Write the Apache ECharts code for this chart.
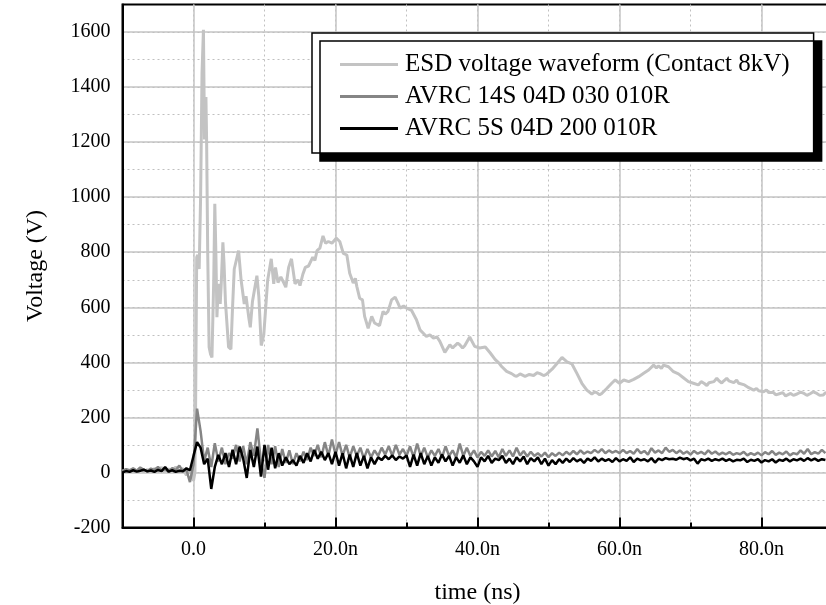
<!DOCTYPE html>
<html><head><meta charset="utf-8">
<script src="https://cdn.jsdelivr.net/npm/echarts@6/dist/echarts.min.js"></script>
<style>html,body{margin:0;padding:0;background:#fff}#c{width:826px;height:605px}</style>
</head><body><div id="c"></div>
<script>
const seriesNames = ['ESD voltage waveform (Contact 8kV)', 'AVRC 14S 04D 030 010R', 'AVRC 5S 04D 200 010R'];
const xTickValues = [0, 20, 40, 60, 80];
const xTickLabels = ['0.0', '20.0n', '40.0n', '60.0n', '80.0n'];

const esdTime = [-10,-9.5,-9,-8.5,-8,-7.5,-7,-6.5,-6,-5.5,-5,-4.5,-4,-3.5,-3,-2.5,-2,-1.5,-1,-0.5,
0,0.2,0.3,0.45,0.6,0.8,1.0,1.2,1.4,1.55,1.75,1.85,2.0,2.2,2.4,2.6,2.85,3.0,3.15,3.3,3.5,3.76,3.9,4.14,4.3,4.5,4.94,5.27,5.5,5.74,6.35,6.7,7.15,7.4,7.8,8.0,8.3,8.93,9.2,9.54,9.9,
10.44,10.95,11.3,11.55,11.9,12.3,12.7,13.0,13.4,13.8,14.3,14.7,15.0,15.4,15.75,16.2,16.8,17.1,17.4,17.8,18.24,18.6,19.0,19.5,
20.1,20.6,21.1,21.6,22.0,22.5,22.8,23.0,23.4,23.8,24.1,24.6,25.1,25.5,26.2,26.7,27.0,27.4,27.9,28.4,28.8,29.1,29.6,
30.0,30.7,31.4,31.9,32.4,32.8,33.3,33.8,34.3,34.7,35.4,36.1,36.5,36.8,37.2,37.5,37.9,38.2,38.9,39.6,
40.3,41.1,41.8,42.5,43.0,43.4,44.1,44.8,45.2,45.5,46.0,46.7,47.3,47.9,48.4,48.8,49.3,49.7,
50.5,51.2,51.9,52.6,53.3,54.0,54.7,55.4,56.1,56.5,56.8,57.2,57.5,58.2,58.9,59.4,
60.0,60.6,61.3,62.0,62.7,63.4,64.1,64.8,65.2,65.5,65.9,66.2,66.9,67.6,68.3,69.0,69.7,
70.4,71.1,71.5,71.9,72.3,72.6,73.3,73.7,74.0,74.4,74.7,75.1,75.4,76.1,76.5,76.8,77.6,78.2,78.9,79.3,79.6,
80.3,80.7,81.0,81.7,82.0,82.4,83.0,83.4,84.1,84.5,85.0,85.5,86.0,86.4,86.9,87.3,87.8,88.2,88.7,89.0,89.5,90.0];
const esdVolt = [5,10,4,12,6,15,5,10,3,14,8,18,5,12,6,20,4,15,-10,10,
-30,0,250,782,790,739,1000,1450,1608,1210,1364,1200,800,455,430,418,700,976,800,564,685,612,680,836,760,620,455,448,600,739,806,700,612,640,560,527,620,715,640,461,500,
697,776,685,745,690,710,690,673,745,776,685,700,679,720,745,750,782,770,806,815,859,833,839,833,
851,839,796,790,724,688,705,676,633,627,567,524,567,543,533,585,575,585,627,637,615,597,605,
597,589,555,518,505,494,500,488,492,476,436,464,452,460,470,464,452,460,492,458,
452,456,434,410,398,385,367,359,352,349,358,349,356,352,362,359,352,356,
375,396,418,402,394,360,324,299,285,292,290,282,287,305,324,336,
324,336,330,338,348,360,372,390,380,387,378,390,384,366,358,344,330,
324,318,330,324,316,326,330,342,333,325,333,342,333,326,335,324,318,308,299,305,297,
293,300,290,290,282,285,290,278,287,280,285,292,287,280,287,293,287,280,281,290,285,288];

const avrcTime = [
-10,-9.5,-9,-8.5,-8,-7.5,-7,-6.5,-6,-5.5,-5,-4.5,-4,-3.5,-3,-2.5,-2,-1.5,-1,-0.5,
0,0.5,1,1.5,2,2.5,3,3.5,4,4.5,5,5.5,6,6.5,7,7.5,8,8.5,9,9.5,
10,10.5,11,11.5,12,12.5,13,13.5,14,14.5,15,15.5,16,16.5,17,17.5,18,18.5,19,19.5,
20,20.5,21,21.5,22,22.5,23,23.5,24,24.5,25,25.5,26,26.5,27,27.5,28,28.5,29,29.5,
30,30.5,31,31.5,32,32.5,33,33.5,34,34.5,35,35.5,36,36.5,37,37.5,38,38.5,39,39.5,
40,40.5,41,41.5,42,42.5,43,43.5,44,44.5,45,45.5,46,46.5,47,47.5,48,48.5,49,49.5,
50,50.5,51,51.5,52,52.5,53,53.5,54,54.5,55,55.5,56,56.5,57,57.5,58,58.5,59,59.5,
60,60.5,61,61.5,62,62.5,63,63.5,64,64.5,65,65.5,66,66.5,67,67.5,68,68.5,69,69.5,
70,70.5,71,71.5,72,72.5,73,73.5,74,74.5,75,75.5,76,76.5,77,77.5,78,78.5,79,79.5,
80,80.5,81,81.5,82,82.5,83,83.5,84,84.5,85,85.5,86,86.5,87,87.5,88,88.5,89];
const avrc14 = [
5,12,8,15,6,18,10,4,14,9,20,6,12,3,16,8,25,5,10,-35,
30,232,150,40,90,20,106,40,90,30,70,50,100,40,95,30,110,60,160,40,
-20,100,30,95,20,85,35,80,30,70,40,75,45,90,60,100,55,110,60,120,
65,110,60,100,55,95,60,90,50,85,55,80,60,90,65,95,60,100,65,85,
60,95,55,105,60,90,55,80,60,85,55,95,60,80,55,105,60,90,60,80,
55,75,60,80,58,78,55,85,60,80,58,90,62,78,58,75,60,70,58,72,
55,70,60,72,62,75,65,78,66,80,68,76,70,82,72,85,70,80,72,78,
70,82,70,78,68,85,70,78,65,88,72,80,70,90,75,82,70,80,68,76,
65,78,68,75,66,80,68,76,65,72,66,74,64,70,66,75,62,70,64,72,
62,74,66,78,64,72,66,76,62,70,66,80,68,85,66,74,68,82,70];
const avrc5 = [
0,5,2,8,3,6,10,4,7,2,9,5,20,3,8,2,6,4,15,8,
60,110,90,30,50,-60,20,64,30,70,20,82,30,94,50,-20,82,20,94,-15,
100,10,90,15,70,25,55,30,45,25,60,35,70,40,82,50,75,45,70,30,
75,25,70,15,65,20,70,25,60,15,55,30,55,45,60,48,62,45,58,50,
62,20,65,25,70,30,60,25,55,35,65,40,60,25,55,35,62,30,55,40,
20,55,40,60,35,50,45,60,35,50,30,55,40,58,30,52,40,55,30,50,
25,45,30,48,35,50,38,52,40,48,35,50,42,55,40,50,42,48,38,52,
40,48,42,55,38,50,44,48,40,52,36,50,45,52,48,50,46,54,48,52,
44,50,32,48,44,50,42,48,44,50,42,48,40,46,44,50,38,46,42,48,
36,45,40,48,36,46,42,50,40,48,44,50,42,52,44,50,42,48,45];

const FONT = 'Liberation Serif';
const zip = (t, v) => t.map((x, i) => [x, v[i]]);
const chart = echarts.init(document.getElementById('c'), null, {renderer: 'canvas'});

const option = {
  animation: false,
  backgroundColor: '#fff',
  grid: [
    {left: 122.5, right: -6.5, top: 4.5, bottom: 77.5, outerBoundsMode: 'none', containLabel: false,
     show: true, borderColor: '#000', borderWidth: 2, backgroundColor: 'transparent'},
    {left: 193.5, right: -6.5, top: 4.5, bottom: 77.5, outerBoundsMode: 'none', containLabel: false}
  ],
  xAxis: [
    {gridIndex: 0, type: 'value', min: -10, max: 90, interval: 10,
     axisLine: {show: true, onZero: false, lineStyle: {color: '#000', width: 2}},
     axisTick: {show: true, inside: true, length: 5, lineStyle: {color: '#000', width: 2}},
     axisLabel: {show: false},
     splitLine: {show: true, lineStyle: {color: '#c0c0c0', width: 1, type: [2, 3]}},
     name: 'time (ns)', nameLocation: 'middle', nameGap: 53,
     nameTextStyle: {fontFamily: FONT, fontSize: 24, color: '#000'}},
    {gridIndex: 1, type: 'value', min: 0, max: 90, interval: 20,
     axisLine: {show: false, onZero: false},
     axisTick: {show: true, inside: true, length: 10, lineStyle: {color: '#000', width: 2}},
     splitLine: {show: true, lineStyle: {color: '#c4c4c4', width: 1.5}},
     axisLabel: {show: true, margin: 12, fontFamily: FONT, fontSize: 20, color: '#000',
       formatter: v => { const i = xTickValues.indexOf(v); return i >= 0 ? xTickLabels[i] : ''; }}}
  ],
  yAxis: [
    {gridIndex: 0, type: 'value', min: -200, max: 1700, interval: 200,
     axisLine: {show: true, onZero: false, lineStyle: {color: '#000', width: 2}},
     axisTick: {show: false},
     splitLine: {show: true, showMaxLine: false, lineStyle: {color: '#c4c4c4', width: 1.5}},
     axisLabel: {margin: 12, fontFamily: FONT, fontSize: 20, color: '#000',
       formatter: v => (v % 200 === 0 && v <= 1600) ? String(v) : ''},
     name: 'Voltage (V)', nameLocation: 'middle', nameGap: 75,
     nameTextStyle: {fontFamily: FONT, fontSize: 24, color: '#000'}},
    {gridIndex: 0, type: 'value', min: -200, max: 1700, interval: 100,
     axisLine: {show: false}, axisTick: {show: false}, axisLabel: {show: false},
     splitLine: {show: true, showMaxLine: false, showMinLine: false, lineStyle: {color: '#c0c0c0', width: 1, type: [2, 3]}}},
    {gridIndex: 1, type: 'value', min: -200, max: 1700, show: false, splitLine: {show: false}}
  ],
  legend: {
    orient: 'vertical', left: 312, top: 33,
    padding: [19, 24, 12, 28], itemGap: 7, itemWidth: 58, itemHeight: 3, icon: 'rect',
    backgroundColor: '#fff', borderColor: '#000', borderWidth: 1.5,
    shadowColor: '#000', shadowBlur: 0, shadowOffsetX: 8, shadowOffsetY: 8,
    textStyle: {fontFamily: FONT, fontSize: 25, color: '#000', lineHeight: 25, padding: [0, 0, 0, 2]},
    data: seriesNames
  },
  series: [
    {name: seriesNames[0], type: 'line', xAxisIndex: 0, yAxisIndex: 0, symbol: 'none',
     data: zip(esdTime, esdVolt), lineStyle: {color: '#c3c3c3', width: 3}, itemStyle: {color: '#c3c3c3'}},
    {name: seriesNames[1], type: 'line', xAxisIndex: 0, yAxisIndex: 0, symbol: 'none',
     data: zip(avrcTime, avrc14), lineStyle: {color: '#858585', width: 2.5}, itemStyle: {color: '#858585'}},
    {name: seriesNames[2], type: 'line', xAxisIndex: 0, yAxisIndex: 0, symbol: 'none',
     data: zip(avrcTime, avrc5), lineStyle: {color: '#000', width: 2.5}, itemStyle: {color: '#000'}}
  ]
};
chart.setOption(option);
</script></body></html>
